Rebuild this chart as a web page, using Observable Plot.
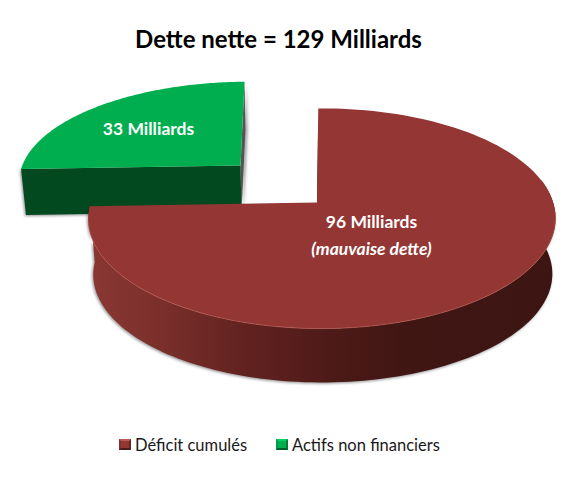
<!DOCTYPE html>
<html><head><meta charset="utf-8">
<script src="https://cdn.jsdelivr.net/npm/d3@7"></script>
<script src="https://cdn.jsdelivr.net/npm/@observablehq/plot@0.6"></script>
<style>
html,body{margin:0;padding:0;background:#fff;width:573px;height:480px;overflow:hidden}
#title{position:absolute;left:0;top:22px;width:557px;text-align:center;font:700 24px Lato,sans-serif;color:#000;line-height:34px;white-space:nowrap}
#chart{position:absolute;left:0;top:60px}
#legend{position:absolute;top:435px;left:0;font:16.5px Lato,sans-serif;color:#1a1a1a;line-height:20px;white-space:nowrap}
#legend span{position:absolute;top:0}
#legend i{position:absolute;top:4px;width:12px;height:11px;box-sizing:border-box;border:2px solid;}
.shadow{filter:drop-shadow(-1px 1.5px 1.5px rgba(0,0,0,.45))}
.shadowR{filter:drop-shadow(2px 1px 1.5px rgba(0,0,0,.4))}
</style></head><body>
<div id="title"></div><div id="chart"></div><div id="legend"></div>
<script>
const titleText = "Dette nette = 129 Milliards";
const categories = ["Déficit cumulés", "Actifs non financiers"];
const values = [96, 33];
const sliceLabels = [["96 Milliards", "(mauvaise dette)"], ["33 Milliards"]];
const legendX = [119, 276];
const topColors = ["#943634", "#00ae50"];
const total = d3.sum(values);
const sweep = values[0] / total * 360;

// perspective model of each slice's disc (top ring / bottom ring)
const red = {x0:316.5, y0:202, R:231, a:107.7, k:.1455, m:.0217, s:-1.5};
const redB = {...red, x0:317.5, y0:258, R:227, a:105.9};
const green = {x0:240, y0:165, R:223, a:96, k:.1455, m:.0217, s:-4.6};
const greenB = {...green, x0:241, y0:211, R:219, a:94};
const pt = (g, deg) => {
  const t = deg * Math.PI / 180, u = Math.sin(t), v = -Math.cos(t), w = 1 - g.k * v - g.m * u;
  return {x: g.x0 + (g.R * u + g.s * v) / w, y: g.y0 + g.a * v / w};
};
const apex = g => ({x: g.x0, y: g.y0});
const arc = (g, a, b) => d3.range(0, 121).map(i => pt(g, a + (b - a) * i / 120));

const redTop = [apex(red), ...arc(red, 0, sweep)];
const greenTop = [apex(green), ...arc(green, sweep, 360)];
const redWall = [...arc(red, 78, sweep), ...arc(redB, sweep, 78)];
const redCut = [apex(red), pt(red, 0), pt(redB, 0), apex(redB)];
const greenCut = [apex(green), pt(green, sweep), pt(greenB, sweep), apex(greenB)];
const greenRight = [apex(green), pt(green, 360), pt(greenB, 360), apex(greenB)];
const redRim = arc(red, 95, sweep - 8);

const shape = (pts, fill, extra = {}) => Plot.line(pts, {x: "x", y: "y", fill, stroke: "none", curve: "linear-closed", ...extra});
const defs = () => {
  const d = d3.create("svg:defs");
  const g = d.append("linearGradient").attr("id", "wallRed").attr("gradientUnits", "userSpaceOnUse")
    .attr("x1", 90).attr("x2", 560).attr("y1", 0).attr("y2", 0);
  [[0,"#8a3733"],[.15,"#7a2f2b"],[.34,"#60221f"],[.51,"#4e1a18"],[.66,"#401613"],[1,"#3c1512"]]
    .forEach(([o,c]) => g.append("stop").attr("offset", o).attr("stop-color", c));
  return d.node();
};

const labelRows = [
  {x:148, y:129, t:sliceLabels[1][0], st:"normal"},
  {x:371, y:222, t:sliceLabels[0][0], st:"normal"},
  {x:371, y:249, t:sliceLabels[0][1], st:"italic"}
];
const textMark = st => Plot.text(labelRows.filter(d => d.st === st), {
  x:"x", y:"y", text:"t", fill:"#fff", fontSize:17.5, fontWeight:700, fontStyle:st, fontFamily:"Lato, sans-serif", textAnchor:"middle"
});

document.getElementById("title").textContent = titleText;
document.getElementById("chart").append(Plot.plot({
  width:573, height:360, margin:0,
  x:{domain:[0,573], range:[0,573], axis:null},
  y:{domain:[60,420], range:[0,360], axis:null},
  marks:[
    defs,
    shape(greenRight, "#555", {className:"shadowR"}),
    shape(greenCut, "#03491f", {className:"shadow"}),
    shape(greenTop, topColors[1]),
    shape(redCut, "#3c1512"),
    shape(redWall, "url(#wallRed)", {className:"shadow"}),
    shape(redTop, topColors[0]),
    Plot.line(redRim, {x:"x", y:"y", stroke:"#b5574f", strokeWidth:1, strokeOpacity:.7}),
    textMark("normal"), textMark("italic")
  ]
}));
const lg = document.getElementById("legend");
categories.forEach((c, i) => {
  const sw = document.createElement("i");
  sw.style.left = legendX[i] + "px";
  sw.style.background = topColors[i];
  sw.style.borderColor = i ? "#00d060 #007a38 #005c2a #009a48" : "#b85a58 #6a2624 #4f1b19 #7f2f2c";
  const s = document.createElement("span");
  s.style.left = legendX[i] + 16 + "px";
  s.textContent = c;
  lg.append(sw, s);
});
</script></body></html>
